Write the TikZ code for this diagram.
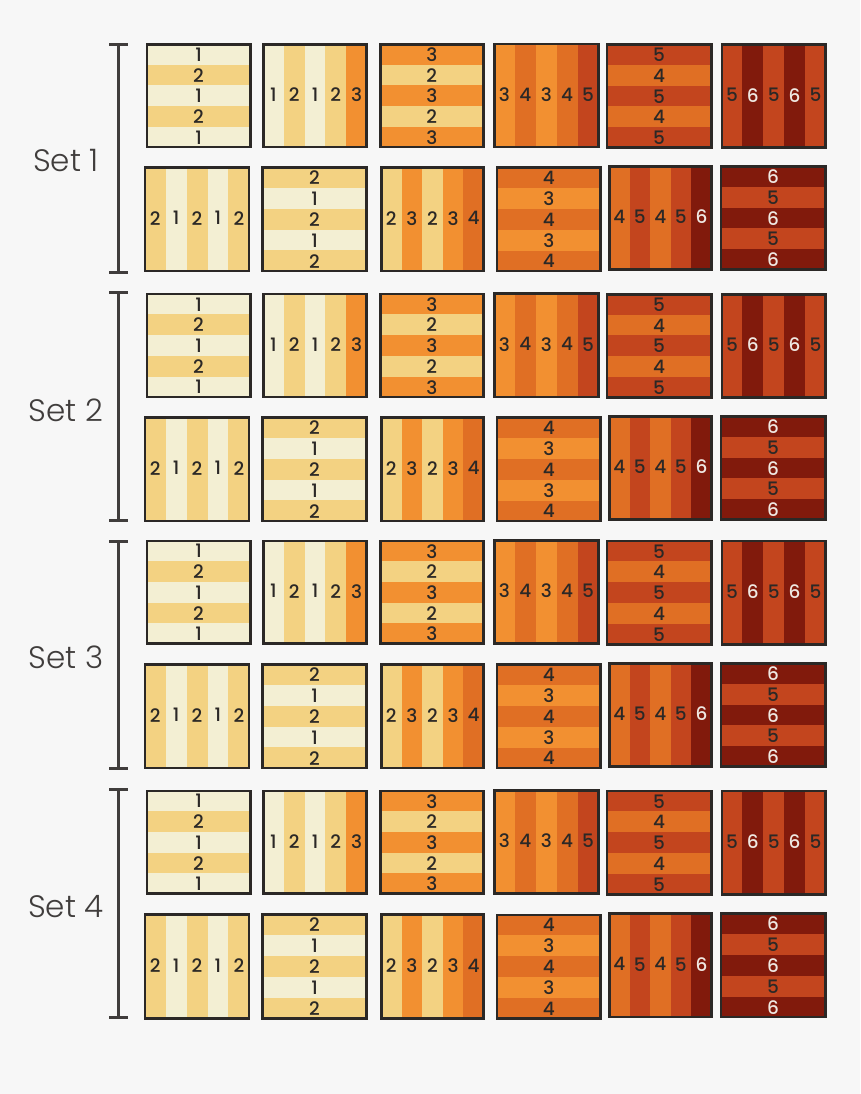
\documentclass[tikz,border=0pt]{standalone}
\usepackage{fontspec}
\setmainfont{Poppins}
\newfontfamily\labelfont{Poppins Light}
\newfontfamily\digitfont{Poppins Medium}
\definecolor{bg}{HTML}{F7F7F7}
\definecolor{c1}{HTML}{F3EFD3}
\definecolor{c2}{HTML}{F3D282}
\definecolor{c3}{HTML}{F29031}
\definecolor{c4}{HTML}{E06F24}
\definecolor{c5}{HTML}{C3451E}
\definecolor{c6}{HTML}{811A0C}
\definecolor{ink}{HTML}{2B2826}
\definecolor{inkL}{HTML}{EFE8E2}
\tikzset{
  tilebox/.style={draw=ink, line width=2.6pt, fill=none, inner sep=0pt, outer sep=0pt},
  digit/.style={font=\digitfont\fontsize{18.5}{18.5}\selectfont, inner sep=0pt},
  d1/.style={text=ink}, d2/.style={text=ink}, d3/.style={text=ink},
  d4/.style={text=ink}, d5/.style={text=ink}, d6/.style={text=inkL},
  brk/.style={draw=ink!90, line width=2.6pt},
  setlabel/.style={font=\labelfont\fontsize{31}{31}\selectfont, text=ink!90, inner sep=0pt}
}
% #1 name, #2 x, #3 y, #4 w, #5 h, #6 list (top to bottom)
\newcommand\Htile[6]{%
  \foreach \d [count=\i from 0] in {#6} {
    \fill[fill=c\d] (#2+1, #3+1+\i*#5/5-\i*0.4) rectangle (#2+#4-1, #3+1+\i*#5/5-\i*0.4+#5/5-0.1);
    \node[digit, d\d] (#1-\i) at (#2+#4/2, #3+1+\i*#5/5-\i*0.4+#5/10-0.2+0.3) {\d};
  }
  \node[tilebox, minimum width=#4-2.6, minimum height=#5-2.6] (#1) at (#2+#4/2, #3+#5/2) {};
}
% #1 name, #2 x, #3 y, #4 w, #5 h, #6 list (left to right)
\newcommand\Vtile[6]{%
  \foreach \d [count=\i from 0] in {#6} {
    \fill[fill=c\d] (#2+1+\i*#4/5-\i*0.4, #3+1) rectangle (#2+1+\i*#4/5-\i*0.4+#4/5-0.1, #3+#5-1);
    \node[digit, d\d] (#1-\i) at (#2+1+\i*#4/5-\i*0.4+#4/10-0.2, #3+#5/2-1) {\d};
  }
  \node[tilebox, minimum width=#4-2.6, minimum height=#5-2.6] (#1) at (#2+#4/2, #3+#5/2) {};
}
\begin{document}
\begin{tikzpicture}[x=1pt, y=-1pt]
\fill[bg] (0,0) rectangle (860,1094);
\useasboundingbox (0,0) rectangle (860,1094);
\foreach \s/\ya/\yb/\bt/\bb/\ly in {1/43/166/44.3/272.3/160.5, 2/292.7/416/292.7/520.5/410, 3/539.5/663/541.7/768.5/657.5, 4/789.5/913.3/789.3/1017.5/906.5} {
  % brackets and label
  \coordinate (b\s t) at (118.5, \bt);
  \coordinate (b\s b) at (118.5, \bb);
  \draw[brk] (b\s t) -- (b\s b);
  \draw[brk] ([xshift=-9.5pt]b\s t) -- ([xshift=9.5pt]b\s t);
  \draw[brk] ([xshift=-9.5pt]b\s b) -- ([xshift=9.5pt]b\s b);
  \node[setlabel] (set\s) at (66, \ly) {Set \s};
  % row A
  \Htile{t\s a1}{145.5}{\ya}{106}{105.5}{1,2,1,2,1}
  \Vtile{t\s a2}{262}{\ya}{106}{105.5}{1,2,1,2,3}
  \Htile{t\s a3}{379}{\ya}{105.5}{105.5}{3,2,3,2,3}
  \Vtile{t\s a4}{493}{\ya-0.3}{106.5}{105.8}{3,4,3,4,5}
  \Htile{t\s a5}{605.5}{\ya+0.2}{107}{105.8}{5,4,5,4,5}
  \Vtile{t\s a6}{720.5}{\ya+0.2}{106.5}{105.8}{5,6,5,6,5}
  % row B
  \Vtile{t\s b1}{143.8}{\yb}{106.5}{106.3}{2,1,2,1,2}
  \Htile{t\s b2}{261.3}{\yb}{106.5}{106.3}{2,1,2,1,2}
  \Vtile{t\s b3}{380}{\yb}{105}{106.3}{2,3,2,3,4}
  \Htile{t\s b4}{495.5}{\yb+0.3}{106.5}{106}{4,3,4,3,4}
  \Vtile{t\s b5}{608}{\yb-1}{104.7}{106}{4,5,4,5,6}
  \Htile{t\s b6}{719.5}{\yb-1}{107}{106}{6,5,6,5,6}
}
\end{tikzpicture}
\end{document}
